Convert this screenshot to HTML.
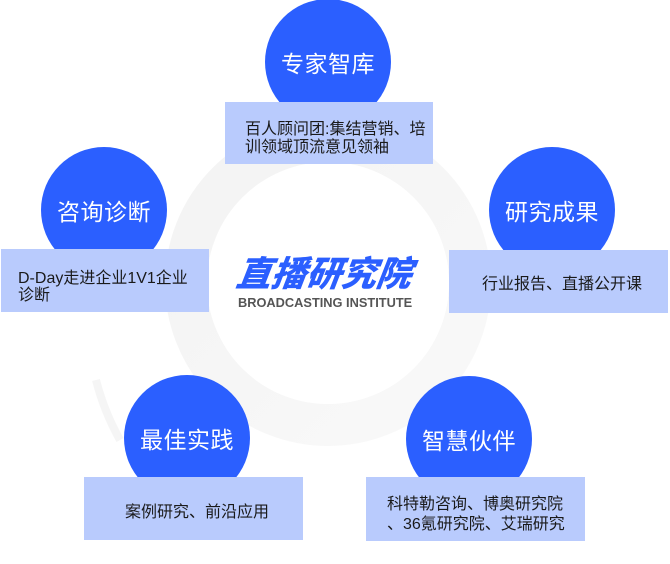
<!DOCTYPE html>
<html>
<head>
<meta charset="utf-8">
<style>
  html,body{margin:0;padding:0;}
  body{width:670px;height:564px;position:relative;overflow:hidden;background:#fff;
    font-family:"Liberation Sans","Noto Sans CJK SC",sans-serif;}
  .c{position:absolute;width:126px;height:126px;border-radius:50%;background:#2b5fff;
    color:#fff;font-size:23px;display:flex;align-items:center;justify-content:center;
    font-family:"Liberation Sans","Noto Sans CJK SC",sans-serif;letter-spacing:0.5px;}
  .b{position:absolute;background:#b9cbfd;color:#1a1a1a;font-size:16px;box-sizing:border-box;}
  .t{position:absolute;white-space:nowrap;}
</style>
</head>
<body>
<svg width="670" height="564" style="position:absolute;left:0;top:0">
  <defs>
    <linearGradient id="g" x1="0" y1="0" x2="1" y2="1">
      <stop offset="0" stop-color="#f3f3f3"/>
      <stop offset="1" stop-color="#f9f9f9"/>
    </linearGradient>
  </defs>
  <circle cx="328" cy="283" r="142" fill="none" stroke="url(#g)" stroke-width="42"/>
  <path d="M96 380 A 250 250 0 0 0 120 440" fill="none" stroke="#f5f5f5" stroke-width="8"/>
  <circle cx="328" cy="283" r="121" fill="#fff"/>
</svg>

<div class="t" style="left:237px;top:250px;font-size:35px;font-weight:900;font-style:italic;color:#2b5fff;font-family:'Noto Sans CJK SC','WenQuanYi Zen Hei',sans-serif;line-height:44px;transform:skewX(-8deg);">直播研究院</div>
<div class="t" style="left:238px;top:295px;font-size:12.8px;font-weight:bold;color:#555;letter-spacing:0px;line-height:16px;">BROADCASTING INSTITUTE</div>

<div class="c" style="left:265px;top:-1px;">专家智库</div>
<div class="c" style="left:41px;top:147px;">咨询诊断</div>
<div class="c" style="left:489px;top:147px;">研究成果</div>
<div class="c" style="left:124px;top:375px;">最佳实践</div>
<div class="c" style="left:406px;top:376px;">智慧伙伴</div>

<div class="b" style="left:225px;top:102px;width:208px;height:62px;">
  <div class="t" style="left:20px;top:19px;line-height:18px;">百人顾问团:集结营销、培<br>训领域顶流意见领袖</div>
</div>
<div class="b" style="left:1px;top:249px;width:208px;height:63px;">
  <div class="t" style="left:17px;top:21px;line-height:17px;">D-Day走进企业1V1企业<br>诊断</div>
</div>
<div class="b" style="left:449px;top:250px;width:219px;height:63px;">
  <div class="t" style="left:33px;top:26px;line-height:18px;">行业报告、直播公开课</div>
</div>
<div class="b" style="left:84px;top:477px;width:219px;height:63px;">
  <div class="t" style="left:41px;top:27px;line-height:18px;">案例研究、前沿应用</div>
</div>
<div class="b" style="left:366px;top:477px;width:219px;height:64px;">
  <div class="t" style="left:21px;top:18px;line-height:20px;">科特勒咨询、博奥研究院<br>、36氪研究院、艾瑞研究</div>
</div>
</body>
</html>
